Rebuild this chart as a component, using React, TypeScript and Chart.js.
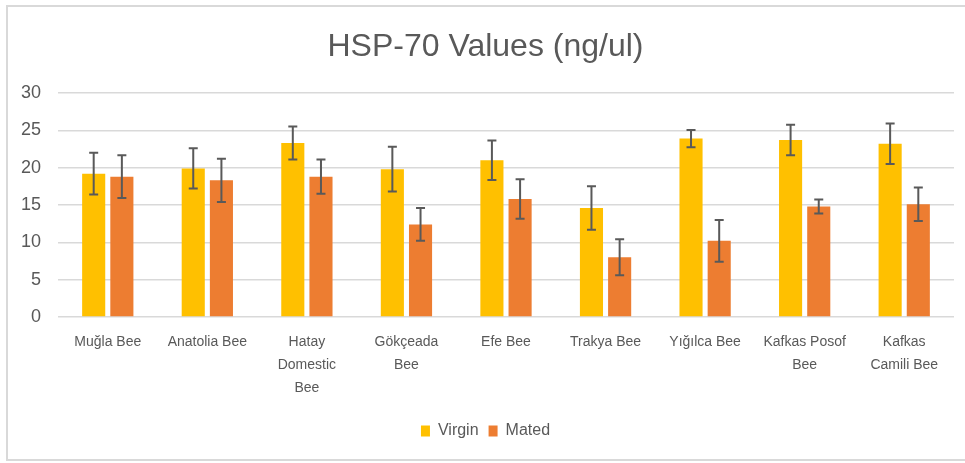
import React, { useEffect, useRef } from "react";
import { Chart, registerables } from "chart.js";

Chart.register(...registerables);

const categories: string[][] = [
  ["Muğla Bee"],
  ["Anatolia Bee"],
  ["Hatay", "Domestic", "Bee"],
  ["Gökçeada", "Bee"],
  ["Efe Bee"],
  ["Trakya Bee"],
  ["Yığılca Bee"],
  ["Kafkas Posof", "Bee"],
  ["Kafkas", "Camili Bee"],
];

const virginValues = [19.2, 19.9, 23.3, 19.8, 21.0, 14.6, 23.9, 23.7, 23.2];
const virginErrors = [2.8, 2.7, 2.2, 3.0, 2.65, 2.9, 1.15, 2.05, 2.7];
const matedValues = [18.8, 18.3, 18.8, 12.4, 15.8, 8.0, 10.2, 14.8, 15.1];
const matedErrors = [2.85, 2.9, 2.3, 2.2, 2.65, 2.4, 2.8, 0.95, 2.25];

const seriesNames = ["Virgin", "Mated"];
const yTicks = { min: 0, max: 30, step: 5 };
const titleText = "HSP-70 Values (ng/ul)";

const FONT = "'Liberation Sans', Arial, sans-serif";
const TEXT_COLOR = "#595959";

const errorBarPlugin = {
  id: "errorBars",
  afterDatasetsDraw(chart: any) {
    const ctx = chart.ctx;
    const yScale = chart.scales.y;
    const errs = [virginErrors, matedErrors];
    chart.data.datasets.forEach((ds: any, i: number) => {
      const meta = chart.getDatasetMeta(i);
      meta.data.forEach((el: any, j: number) => {
        const v = ds.data[j];
        const e = errs[i][j];
        const x = el.x;
        const yTop = yScale.getPixelForValue(v + e);
        const yBot = yScale.getPixelForValue(v - e);
        ctx.save();
        ctx.strokeStyle = "#595959";
        ctx.lineWidth = 2;
        ctx.beginPath();
        ctx.moveTo(x, yTop);
        ctx.lineTo(x, yBot);
        ctx.moveTo(x - 4.5, yTop);
        ctx.lineTo(x + 4.5, yTop);
        ctx.moveTo(x - 4.5, yBot);
        ctx.lineTo(x + 4.5, yBot);
        ctx.stroke();
        ctx.restore();
      });
    });
  },
};

export default function App() {
  const ref = useRef<HTMLCanvasElement | null>(null);

  useEffect(() => {
    document.body.style.margin = "0";
    if (!ref.current) return;
    const chart = new Chart(ref.current, {
      type: "bar",
      data: {
        labels: categories,
        datasets: [
          {
            label: seriesNames[0],
            data: virginValues,
            backgroundColor: "#FFC000",
            barPercentage: 0.82,
            categoryPercentage: 0.566,
          },
          {
            label: seriesNames[1],
            data: matedValues,
            backgroundColor: "#ED7D31",
            barPercentage: 0.82,
            categoryPercentage: 0.566,
          },
        ],
      },
      options: {
        responsive: false,
        animation: false,
        layout: { padding: { left: 6, right: 0, top: 5, bottom: 14 } },
        plugins: {
          title: {
            display: true,
            text: titleText,
            color: TEXT_COLOR,
            font: { family: FONT, size: 32, weight: "normal" },
            padding: { top: 23, bottom: 26.6 },
          },
          legend: {
            position: "bottom",
            labels: {
              color: TEXT_COLOR,
              font: { family: FONT, size: 16 },
              boxWidth: 9,
              boxHeight: 11,
              padding: 10,
            },
          },
          tooltip: { enabled: false },
        },
        scales: {
          x: {
            grid: { display: false, drawTicks: false },
            border: { display: false },
            ticks: {
              color: TEXT_COLOR,
              font: { family: FONT, size: 14, lineHeight: 1.643 },
              padding: 14,
              maxRotation: 0,
              autoSkip: false,
            },
            afterFit(scale: any) {
              scale.height = 96;
            },
          },
          y: {
            min: yTicks.min,
            max: yTicks.max,
            grid: { color: "#D9D9D9", lineWidth: 1.5, drawTicks: false },
            border: { display: false },
            ticks: {
              stepSize: yTicks.step,
              color: TEXT_COLOR,
              font: { family: FONT, size: 18 },
              padding: 17,
            },
            afterFit(scale: any) {
              scale.width = 52;
            },
          },
          yRight: {
            position: "right",
            display: true,
            grid: { display: false, drawTicks: false },
            border: { display: false },
            ticks: { display: false },
            afterFit(scale: any) {
              scale.width = 11;
            },
          },
        },
      },
      plugins: [errorBarPlugin],
    } as any);
    return () => chart.destroy();
  }, []);

  return (
    <div style={{ position: "relative", width: 965, height: 463, overflow: "hidden", background: "#fff" }}>
      <div
        style={{
          position: "absolute",
          left: 6,
          top: 5,
          width: 975,
          height: 452,
          border: "2px solid #D9D9D9",
        }}
      />
      <canvas ref={ref} width={965} height={463} style={{ position: "absolute", left: 0, top: 0 }} />
    </div>
  );
}
